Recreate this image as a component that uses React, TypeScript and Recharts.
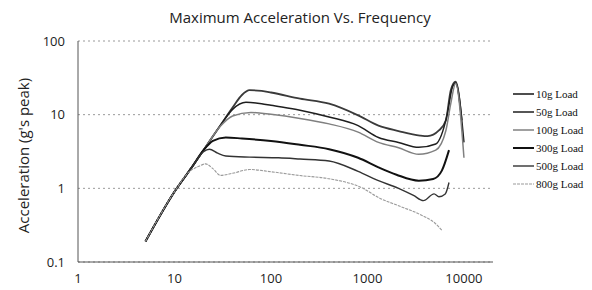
import { LineChart, Line, XAxis, YAxis, CartesianGrid, Legend } from "recharts";

const TITLE = "Maximum Acceleration Vs. Frequency";
const Y_LABEL = "Acceleration (g's peak)";
const X_TICKS = [1, 10, 100, 1000, 10000];
const Y_TICKS = [0.1, 1, 10, 100];

// frequency (Hz) / peak acceleration (g)
const F_10G = [5, 10, 15, 20, 30, 40, 50, 60, 80, 100, 200, 400, 800, 1300, 2100, 3500, 4200, 5500, 6500, 7300, 8200, 9500];
const A_10G = [0.19, 0.9, 1.9, 3.3, 7.2, 12.5, 18.5, 21.5, 21, 20, 16.5, 14.1, 9.8, 7.1, 6.0, 5.2, 5.1, 6.1, 8.4, 21.5, 28, 8.4];

const F_50G = [5, 10, 15, 20, 30, 40, 55, 80, 100, 200, 400, 800, 1300, 2100, 3400, 5100, 6700, 7600, 8200, 10000];
const A_50G = [0.19, 0.9, 1.9, 3.3, 7.2, 11.8, 14.7, 14.1, 13.4, 11.5, 9.3, 7.1, 4.9, 4.2, 3.6, 4.0, 10, 23.8, 27, 4.2];

const F_100G = [5, 10, 15, 20, 30, 40, 62, 100, 200, 400, 800, 1300, 2100, 3400, 5100, 6500, 7300, 8200, 10000];
const A_100G = [0.19, 0.9, 1.9, 3.3, 7.0, 9.6, 10.7, 10.1, 8.9, 7.5, 5.8, 4.2, 3.55, 2.9, 3.3, 6.1, 14.1, 26.5, 2.6];

const F_300G = [5, 10, 15, 20, 25, 34, 50, 100, 200, 400, 800, 1300, 2000, 3400, 4800, 5900, 7000];
const A_300G = [0.19, 0.9, 1.9, 3.3, 4.4, 4.9, 4.75, 4.4, 3.9, 3.4, 2.6, 1.93, 1.53, 1.27, 1.34, 1.74, 3.3];

const F_500G = [5, 10, 15, 20, 23, 28, 34, 60, 120, 200, 400, 800, 1300, 2100, 3000, 3800, 4900, 5500, 6400, 7000];
const A_500G = [0.19, 0.9, 1.9, 3.15, 3.4, 3.0, 2.75, 2.65, 2.6, 2.5, 2.35, 1.7, 1.27, 1.0, 0.8, 0.68, 0.84, 0.77, 0.84, 1.2];

const F_800G = [5, 10, 14, 18, 21, 25, 30, 40, 60, 100, 200, 400, 900, 1300, 2100, 3400, 5100, 5900];
const A_800G = [0.19, 0.9, 1.65, 2.0, 2.15, 1.85, 1.5, 1.6, 1.8, 1.68, 1.49, 1.35, 1.0, 0.75, 0.58, 0.45, 0.33, 0.27];

const SERIES = [
  { name: "10g Load", f: F_10G, a: A_10G },
  { name: "50g Load", f: F_50G, a: A_50G },
  { name: "100g Load", f: F_100G, a: A_100G },
  { name: "300g Load", f: F_300G, a: A_300G },
  { name: "500g Load", f: F_500G, a: A_500G },
  { name: "800g Load", f: F_800G, a: A_800G },
];

const STYLES: Record<string, { stroke: string; width: number; dash?: string }> = {
  "10g Load": { stroke: "#3a3a3a", width: 1.8 },
  "50g Load": { stroke: "#1e1e1e", width: 1.5 },
  "100g Load": { stroke: "#808080", width: 1.5 },
  "300g Load": { stroke: "#111111", width: 2 },
  "500g Load": { stroke: "#333333", width: 1.4 },
  "800g Load": { stroke: "#9a9a9a", width: 1.1, dash: "3 1" },
};

const FONT = "'Open Sans', sans-serif";
const LEGEND_FONT = "'Liberation Serif', serif";

// keep the legend in series order (recharts sorts the payload by name)
const renderLegend = () => (
  <div style={{ width: 80 }}>
    {SERIES.map((s) => {
      const st = STYLES[s.name];
      return (
        <div key={s.name} style={{ display: "flex", alignItems: "center", height: 18 }}>
          <svg width={23} height={10} style={{ flex: "none" }}>
            <line x1={0} y1={5} x2={21} y2={5} stroke={st.stroke} strokeWidth={st.width} strokeDasharray={st.dash} />
          </svg>
          <span style={{ fontSize: 11, color: "#111", fontFamily: LEGEND_FONT, whiteSpace: "nowrap" }}>{s.name}</span>
        </div>
      );
    })}
  </div>
);

export default function App() {
  return (
    <div style={{ position: "absolute", left: 0, top: 0, width: 592, height: 290, background: "#fff" }}>
      <div
        style={{
          position: "absolute",
          left: 4,
          top: 7,
          width: 592,
          textAlign: "center",
          fontFamily: FONT,
          fontSize: 15,
          color: "#222",
          lineHeight: "20px",
        }}
      >
        {TITLE}
      </div>
      <LineChart width={592} height={290} margin={{ top: 41, right: 99, bottom: 0, left: 0 }}>
        <CartesianGrid vertical={false} stroke="#9a9a9a" strokeDasharray="2 3" />
        <XAxis
          type="number"
          dataKey="f"
          scale="log"
          domain={[1, 20000]}
          ticks={X_TICKS}
          allowDataOverflow
          height={28}
          tickLine={false}
          tickSize={0}
          tickMargin={12}
          stroke="#555"
          tick={{ fontSize: 13, fill: "#222", fontFamily: FONT }}
          tickFormatter={(v) => String(v)}
        />
        <YAxis
          type="number"
          dataKey="a"
          scale="log"
          domain={[0.1, 100]}
          ticks={Y_TICKS}
          allowDataOverflow
          width={78}
          tickLine={false}
          tickSize={0}
          tickMargin={13}
          stroke="#555"
          tick={{ fontSize: 13, fill: "#222", fontFamily: FONT }}
          tickFormatter={(v) => String(v)}
          label={{
            value: Y_LABEL,
            angle: -90,
            position: "insideLeft",
            offset: 24,
            dy: 4,
            style: { textAnchor: "middle", fontSize: 15, fill: "#222", fontFamily: FONT },
          }}
        />
        <Legend
          layout="horizontal"
          align="center"
          verticalAlign="middle"
          wrapperStyle={{ left: 513, top: 85, width: 80 }}
          content={renderLegend}
        />
        {SERIES.map((s) => (
          <Line
            key={s.name}
            name={s.name}
            data={s.f.map((f, i) => ({ f, a: s.a[i] }))}
            dataKey="a"
            type="monotone"
            dot={false}
            activeDot={false}
            stroke={STYLES[s.name].stroke}
            strokeWidth={STYLES[s.name].width}
            strokeDasharray={STYLES[s.name].dash}
            isAnimationActive={false}
          />
        ))}
      </LineChart>
    </div>
  );
}
